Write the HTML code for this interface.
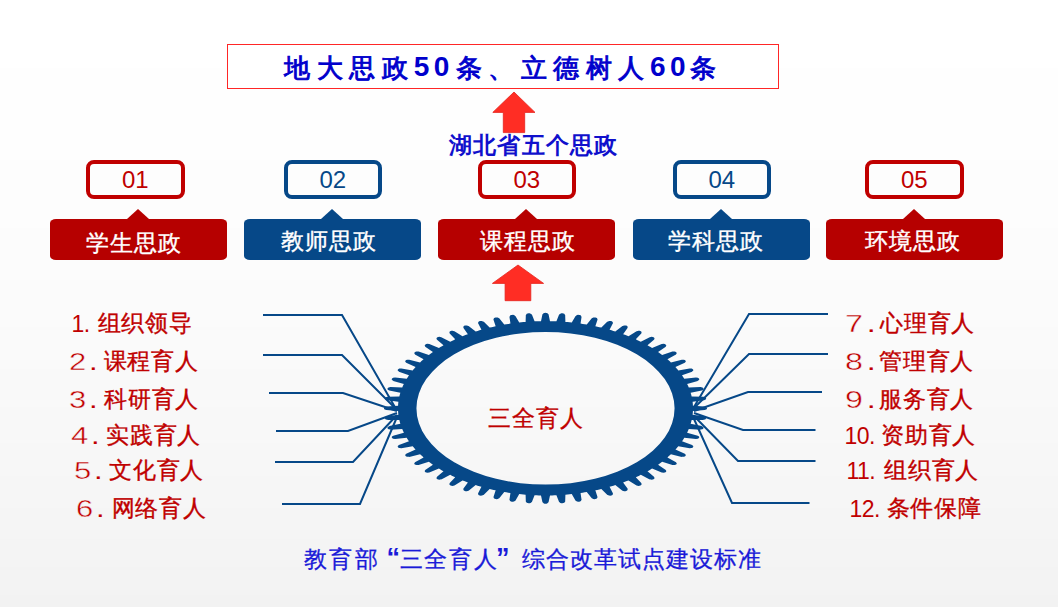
<!DOCTYPE html>
<html><head><meta charset="utf-8"><style>
html,body{margin:0;padding:0}
body{width:1058px;height:607px;overflow:hidden;position:relative;background:linear-gradient(to bottom,#ffffff 0px 68px,#fefefe 68px 160px,#fdfdfd 160px 228px,#fcfcfc 228px 280px,#fbfbfb 280px 327px,#fafafa 327px 369px,#f9f9f9 369px 407px,#f8f8f8 407px 443px,#f7f7f7 443px 476px,#f6f6f6 476px 508px,#f5f5f5 508px 539px,#f4f4f4 539px 567px,#f3f3f3 567px 595px,#f2f2f2 595px 607px);font-family:"Liberation Sans",sans-serif}
.abs{position:absolute}
#title{position:absolute;left:227px;top:44px;width:550px;height:43px;border:1px solid #ff2626;background:#fff;}
#tt span,#tt b{position:absolute;top:54.7px;font-size:26px;line-height:26px;color:#0000cc;letter-spacing:6.5px;white-space:nowrap;-webkit-text-stroke:0.9px #0000cc}
#tt b{font-weight:bold;-webkit-text-stroke:0;font-size:28px;top:54px;letter-spacing:4.5px;transform:scaleX(1.0);transform-origin:0 0}
#hb{position:absolute;left:449px;top:133.5px;font-weight:bold;font-size:23px;line-height:23px;color:#1010cc;white-space:nowrap;letter-spacing:1.2px}
.nb{position:absolute;top:160px;width:90.5px;height:30.5px;border:4px solid;border-radius:8px;font-size:24px;line-height:32px;text-align:center}
.lb{position:absolute;top:219px;width:177px;height:40.5px;border-radius:6px/4px;color:#fff;font-size:23px;line-height:24px;letter-spacing:1px;-webkit-text-stroke:0.35px #fff}
.lb span{position:absolute;white-space:nowrap}
.notch{position:absolute;top:208.7px;width:0;height:0;border-left:11.5px solid transparent;border-right:11.5px solid transparent;border-bottom:10.5px solid}
.n,.c{position:absolute;font-size:23px;line-height:24px;letter-spacing:0.8px;color:#c00000;white-space:nowrap}
.c{-webkit-text-stroke:0.35px #c00000}
.n i{font-style:normal}
.n .e{-webkit-text-stroke:0.4px #f9f9f9}
.n{transform-origin:0 0}
#bt span{position:absolute;font-size:23px;line-height:24px;color:#1a1ad8;white-space:nowrap;-webkit-text-stroke:0.3px #1a1ad8}
#bt .q{font-size:27px;font-weight:bold;-webkit-text-stroke:0}
#center{position:absolute;left:488px;top:406px;font-size:23px;line-height:24px;color:#c00000;-webkit-text-stroke:0.3px #c00000;white-space:nowrap;letter-spacing:0.9px}
</style></head><body>
<div id="title"></div>
<div id="tt"><span style="left:284px">地大思政</span><b style="left:413.8px">50</b><span style="left:455.5px">条、立德树人</span><b style="left:650px">60</b><span style="left:689.5px">条</span></div>
<svg class="abs" style="left:0;top:0" width="1058" height="607" viewBox="0 0 1058 607">
<polygon points="514,92 535,112.4 524.7,112.4 524.7,132.6 503.3,132.6 503.3,112.4 492.8,112.4" fill="#ff2d24" stroke="#e4221c" stroke-width="0.8"/>
<polygon points="518,265 543.6,283.4 530.8,283.4 530.8,300.7 505.1,300.7 505.1,283.4 492.4,283.4" fill="#ff2d24" stroke="#e4221c" stroke-width="0.8"/>
<g fill="none" stroke="#064888" stroke-width="2" stroke-linejoin="miter"><polyline points="263,315 342,315 396,409"/><polyline points="263,355 342,355 397,410"/><polyline points="269,393 343,393 397,411"/><polyline points="276,431 348,431 397,413"/><polyline points="275,462 353,462 397,415"/><polyline points="282,504 360,504 397,417"/><polyline points="828,314 749,314 694,407"/><polyline points="828,354 749,354 694,408"/><polyline points="822,392 748,392 694,411"/><polyline points="815.5,430 743,430 694,413"/><polyline points="815.5,461 738,461 694,416"/><polyline points="809.5,503 732,503 694,419"/></g>
<g transform="translate(545.5 408.3) scale(1.475 0.872)"><path fill="#064888" fill-rule="evenodd" d="M99.73 -7.41 L99.82 -5.96 L99.90 -4.51 L99.95 -3.05 L107.88 -2.07 L107.88 -1.98 L109.02 -1.33 L109.39 -0.67 L109.50 0.00 L109.39 0.67 L109.02 1.33 L107.88 1.98 L107.88 2.07 L99.95 3.05 L99.95 3.05 L99.90 4.51 L99.82 5.96 L99.73 7.41 L107.51 9.22 L107.50 9.31 L108.57 10.07 L108.86 10.77 L108.90 11.45 L108.72 12.10 L108.29 12.72 L107.08 13.24 L107.07 13.34 L99.09 13.49 L99.09 13.49 L98.88 14.92 L98.65 16.36 L98.40 17.79 L105.95 20.40 L105.94 20.50 L106.92 21.36 L107.14 22.09 L107.11 22.77 L106.86 23.40 L106.36 23.97 L105.11 24.36 L105.09 24.46 L97.13 23.77 L97.13 23.77 L96.78 25.18 L96.40 26.58 L96.00 27.98 L103.24 31.37 L103.21 31.46 L104.10 32.42 L104.24 33.17 L104.14 33.84 L103.83 34.44 L103.28 34.96 L101.99 35.22 L101.96 35.31 L94.12 33.79 L94.12 33.79 L93.62 35.16 L93.09 36.51 L92.55 37.86 L99.40 41.99 L99.36 42.07 L100.14 43.13 L100.20 43.88 L100.03 44.54 L99.66 45.10 L99.06 45.56 L97.75 45.69 L97.71 45.77 L90.07 43.44 L90.07 43.44 L89.43 44.75 L88.77 46.05 L88.09 47.33 L94.46 52.15 L94.42 52.23 L95.08 53.36 L95.07 54.11 L94.83 54.75 L94.40 55.27 L93.75 55.67 L92.44 55.65 L92.39 55.73 L85.04 52.62 L85.04 52.62 L84.26 53.85 L83.47 55.07 L82.66 56.28 L88.49 61.73 L88.44 61.81 L88.98 63.00 L88.89 63.76 L88.59 64.36 L88.10 64.84 L87.42 65.16 L86.12 65.01 L86.06 65.09 L79.07 61.22 L79.07 61.22 L78.17 62.37 L77.25 63.50 L76.32 64.61 L81.56 70.65 L81.49 70.72 L81.91 71.96 L81.74 72.70 L81.37 73.27 L80.84 73.69 L80.13 73.94 L78.85 73.66 L78.78 73.73 L72.24 69.15 L72.24 69.15 L71.22 70.19 L70.19 71.22 L69.15 72.24 L73.73 78.78 L73.66 78.85 L73.94 80.13 L73.69 80.84 L73.27 81.37 L72.70 81.74 L71.96 81.91 L70.72 81.49 L70.65 81.56 L64.61 76.32 L64.61 76.32 L63.50 77.25 L62.37 78.17 L61.22 79.07 L65.09 86.06 L65.01 86.12 L65.16 87.42 L64.84 88.10 L64.36 88.59 L63.76 88.89 L63.00 88.98 L61.81 88.44 L61.73 88.49 L56.28 82.66 L56.28 82.66 L55.07 83.47 L53.85 84.26 L52.62 85.04 L55.73 92.39 L55.65 92.44 L55.67 93.75 L55.27 94.40 L54.75 94.83 L54.11 95.07 L53.36 95.08 L52.23 94.42 L52.15 94.46 L47.33 88.09 L47.33 88.09 L46.05 88.77 L44.75 89.43 L43.44 90.07 L45.77 97.71 L45.69 97.75 L45.56 99.06 L45.10 99.66 L44.54 100.03 L43.88 100.20 L43.13 100.14 L42.07 99.36 L41.99 99.40 L37.86 92.55 L37.86 92.55 L36.51 93.09 L35.16 93.62 L33.79 94.12 L35.31 101.96 L35.22 101.99 L34.96 103.28 L34.44 103.83 L33.84 104.14 L33.17 104.24 L32.42 104.10 L31.46 103.21 L31.37 103.24 L27.98 96.00 L27.98 96.00 L26.58 96.40 L25.18 96.78 L23.77 97.13 L24.46 105.09 L24.36 105.11 L23.97 106.36 L23.40 106.86 L22.77 107.11 L22.09 107.14 L21.36 106.92 L20.50 105.94 L20.40 105.95 L17.79 98.40 L17.79 98.40 L16.36 98.65 L14.92 98.88 L13.49 99.09 L13.34 107.07 L13.24 107.08 L12.72 108.29 L12.10 108.72 L11.45 108.90 L10.77 108.86 L10.07 108.57 L9.31 107.50 L9.22 107.51 L7.41 99.73 L7.41 99.73 L5.96 99.82 L4.51 99.90 L3.05 99.95 L2.07 107.88 L1.98 107.88 L1.33 109.02 L0.67 109.39 L0.00 109.50 L-0.67 109.39 L-1.33 109.02 L-1.98 107.88 L-2.07 107.88 L-3.05 99.95 L-3.05 99.95 L-4.51 99.90 L-5.96 99.82 L-7.41 99.73 L-9.22 107.51 L-9.31 107.50 L-10.07 108.57 L-10.77 108.86 L-11.45 108.90 L-12.10 108.72 L-12.72 108.29 L-13.24 107.08 L-13.34 107.07 L-13.49 99.09 L-13.49 99.09 L-14.92 98.88 L-16.36 98.65 L-17.79 98.40 L-20.40 105.95 L-20.50 105.94 L-21.36 106.92 L-22.09 107.14 L-22.77 107.11 L-23.40 106.86 L-23.97 106.36 L-24.36 105.11 L-24.46 105.09 L-23.77 97.13 L-23.77 97.13 L-25.18 96.78 L-26.58 96.40 L-27.98 96.00 L-31.37 103.24 L-31.46 103.21 L-32.42 104.10 L-33.17 104.24 L-33.84 104.14 L-34.44 103.83 L-34.96 103.28 L-35.22 101.99 L-35.31 101.96 L-33.79 94.12 L-33.79 94.12 L-35.16 93.62 L-36.51 93.09 L-37.86 92.55 L-41.99 99.40 L-42.07 99.36 L-43.13 100.14 L-43.88 100.20 L-44.54 100.03 L-45.10 99.66 L-45.56 99.06 L-45.69 97.75 L-45.77 97.71 L-43.44 90.07 L-43.44 90.07 L-44.75 89.43 L-46.05 88.77 L-47.33 88.09 L-52.15 94.46 L-52.23 94.42 L-53.36 95.08 L-54.11 95.07 L-54.75 94.83 L-55.27 94.40 L-55.67 93.75 L-55.65 92.44 L-55.73 92.39 L-52.62 85.04 L-52.62 85.04 L-53.85 84.26 L-55.07 83.47 L-56.28 82.66 L-61.73 88.49 L-61.81 88.44 L-63.00 88.98 L-63.76 88.89 L-64.36 88.59 L-64.84 88.10 L-65.16 87.42 L-65.01 86.12 L-65.09 86.06 L-61.22 79.07 L-61.22 79.07 L-62.37 78.17 L-63.50 77.25 L-64.61 76.32 L-70.65 81.56 L-70.72 81.49 L-71.96 81.91 L-72.70 81.74 L-73.27 81.37 L-73.69 80.84 L-73.94 80.13 L-73.66 78.85 L-73.73 78.78 L-69.15 72.24 L-69.15 72.24 L-70.19 71.22 L-71.22 70.19 L-72.24 69.15 L-78.78 73.73 L-78.85 73.66 L-80.13 73.94 L-80.84 73.69 L-81.37 73.27 L-81.74 72.70 L-81.91 71.96 L-81.49 70.72 L-81.56 70.65 L-76.32 64.61 L-76.32 64.61 L-77.25 63.50 L-78.17 62.37 L-79.07 61.22 L-86.06 65.09 L-86.12 65.01 L-87.42 65.16 L-88.10 64.84 L-88.59 64.36 L-88.89 63.76 L-88.98 63.00 L-88.44 61.81 L-88.49 61.73 L-82.66 56.28 L-82.66 56.28 L-83.47 55.07 L-84.26 53.85 L-85.04 52.62 L-92.39 55.73 L-92.44 55.65 L-93.75 55.67 L-94.40 55.27 L-94.83 54.75 L-95.07 54.11 L-95.08 53.36 L-94.42 52.23 L-94.46 52.15 L-88.09 47.33 L-88.09 47.33 L-88.77 46.05 L-89.43 44.75 L-90.07 43.44 L-97.71 45.77 L-97.75 45.69 L-99.06 45.56 L-99.66 45.10 L-100.03 44.54 L-100.20 43.88 L-100.14 43.13 L-99.36 42.07 L-99.40 41.99 L-92.55 37.86 L-92.55 37.86 L-93.09 36.51 L-93.62 35.16 L-94.12 33.79 L-101.96 35.31 L-101.99 35.22 L-103.28 34.96 L-103.83 34.44 L-104.14 33.84 L-104.24 33.17 L-104.10 32.42 L-103.21 31.46 L-103.24 31.37 L-96.00 27.98 L-96.00 27.98 L-96.40 26.58 L-96.78 25.18 L-97.13 23.77 L-105.09 24.46 L-105.11 24.36 L-106.36 23.97 L-106.86 23.40 L-107.11 22.77 L-107.14 22.09 L-106.92 21.36 L-105.94 20.50 L-105.95 20.40 L-98.40 17.79 L-98.40 17.79 L-98.65 16.36 L-98.88 14.92 L-99.09 13.49 L-107.07 13.34 L-107.08 13.24 L-108.29 12.72 L-108.72 12.10 L-108.90 11.45 L-108.86 10.77 L-108.57 10.07 L-107.50 9.31 L-107.51 9.22 L-99.73 7.41 L-99.73 7.41 L-99.82 5.96 L-99.90 4.51 L-99.95 3.05 L-107.88 2.07 L-107.88 1.98 L-109.02 1.33 L-109.39 0.67 L-109.50 0.00 L-109.39 -0.67 L-109.02 -1.33 L-107.88 -1.98 L-107.88 -2.07 L-99.95 -3.05 L-99.95 -3.05 L-99.90 -4.51 L-99.82 -5.96 L-99.73 -7.41 L-107.51 -9.22 L-107.50 -9.31 L-108.57 -10.07 L-108.86 -10.77 L-108.90 -11.45 L-108.72 -12.10 L-108.29 -12.72 L-107.08 -13.24 L-107.07 -13.34 L-99.09 -13.49 L-99.09 -13.49 L-98.88 -14.92 L-98.65 -16.36 L-98.40 -17.79 L-105.95 -20.40 L-105.94 -20.50 L-106.92 -21.36 L-107.14 -22.09 L-107.11 -22.77 L-106.86 -23.40 L-106.36 -23.97 L-105.11 -24.36 L-105.09 -24.46 L-97.13 -23.77 L-97.13 -23.77 L-96.78 -25.18 L-96.40 -26.58 L-96.00 -27.98 L-103.24 -31.37 L-103.21 -31.46 L-104.10 -32.42 L-104.24 -33.17 L-104.14 -33.84 L-103.83 -34.44 L-103.28 -34.96 L-101.99 -35.22 L-101.96 -35.31 L-94.12 -33.79 L-94.12 -33.79 L-93.62 -35.16 L-93.09 -36.51 L-92.55 -37.86 L-99.40 -41.99 L-99.36 -42.07 L-100.14 -43.13 L-100.20 -43.88 L-100.03 -44.54 L-99.66 -45.10 L-99.06 -45.56 L-97.75 -45.69 L-97.71 -45.77 L-90.07 -43.44 L-90.07 -43.44 L-89.43 -44.75 L-88.77 -46.05 L-88.09 -47.33 L-94.46 -52.15 L-94.42 -52.23 L-95.08 -53.36 L-95.07 -54.11 L-94.83 -54.75 L-94.40 -55.27 L-93.75 -55.67 L-92.44 -55.65 L-92.39 -55.73 L-85.04 -52.62 L-85.04 -52.62 L-84.26 -53.85 L-83.47 -55.07 L-82.66 -56.28 L-88.49 -61.73 L-88.44 -61.81 L-88.98 -63.00 L-88.89 -63.76 L-88.59 -64.36 L-88.10 -64.84 L-87.42 -65.16 L-86.12 -65.01 L-86.06 -65.09 L-79.07 -61.22 L-79.07 -61.22 L-78.17 -62.37 L-77.25 -63.50 L-76.32 -64.61 L-81.56 -70.65 L-81.49 -70.72 L-81.91 -71.96 L-81.74 -72.70 L-81.37 -73.27 L-80.84 -73.69 L-80.13 -73.94 L-78.85 -73.66 L-78.78 -73.73 L-72.24 -69.15 L-72.24 -69.15 L-71.22 -70.19 L-70.19 -71.22 L-69.15 -72.24 L-73.73 -78.78 L-73.66 -78.85 L-73.94 -80.13 L-73.69 -80.84 L-73.27 -81.37 L-72.70 -81.74 L-71.96 -81.91 L-70.72 -81.49 L-70.65 -81.56 L-64.61 -76.32 L-64.61 -76.32 L-63.50 -77.25 L-62.37 -78.17 L-61.22 -79.07 L-65.09 -86.06 L-65.01 -86.12 L-65.16 -87.42 L-64.84 -88.10 L-64.36 -88.59 L-63.76 -88.89 L-63.00 -88.98 L-61.81 -88.44 L-61.73 -88.49 L-56.28 -82.66 L-56.28 -82.66 L-55.07 -83.47 L-53.85 -84.26 L-52.62 -85.04 L-55.73 -92.39 L-55.65 -92.44 L-55.67 -93.75 L-55.27 -94.40 L-54.75 -94.83 L-54.11 -95.07 L-53.36 -95.08 L-52.23 -94.42 L-52.15 -94.46 L-47.33 -88.09 L-47.33 -88.09 L-46.05 -88.77 L-44.75 -89.43 L-43.44 -90.07 L-45.77 -97.71 L-45.69 -97.75 L-45.56 -99.06 L-45.10 -99.66 L-44.54 -100.03 L-43.88 -100.20 L-43.13 -100.14 L-42.07 -99.36 L-41.99 -99.40 L-37.86 -92.55 L-37.86 -92.55 L-36.51 -93.09 L-35.16 -93.62 L-33.79 -94.12 L-35.31 -101.96 L-35.22 -101.99 L-34.96 -103.28 L-34.44 -103.83 L-33.84 -104.14 L-33.17 -104.24 L-32.42 -104.10 L-31.46 -103.21 L-31.37 -103.24 L-27.98 -96.00 L-27.98 -96.00 L-26.58 -96.40 L-25.18 -96.78 L-23.77 -97.13 L-24.46 -105.09 L-24.36 -105.11 L-23.97 -106.36 L-23.40 -106.86 L-22.77 -107.11 L-22.09 -107.14 L-21.36 -106.92 L-20.50 -105.94 L-20.40 -105.95 L-17.79 -98.40 L-17.79 -98.40 L-16.36 -98.65 L-14.92 -98.88 L-13.49 -99.09 L-13.34 -107.07 L-13.24 -107.08 L-12.72 -108.29 L-12.10 -108.72 L-11.45 -108.90 L-10.77 -108.86 L-10.07 -108.57 L-9.31 -107.50 L-9.22 -107.51 L-7.41 -99.73 L-7.41 -99.73 L-5.96 -99.82 L-4.51 -99.90 L-3.05 -99.95 L-2.07 -107.88 L-1.98 -107.88 L-1.33 -109.02 L-0.67 -109.39 L-0.00 -109.50 L0.67 -109.39 L1.33 -109.02 L1.98 -107.88 L2.07 -107.88 L3.05 -99.95 L3.05 -99.95 L4.51 -99.90 L5.96 -99.82 L7.41 -99.73 L9.22 -107.51 L9.31 -107.50 L10.07 -108.57 L10.77 -108.86 L11.45 -108.90 L12.10 -108.72 L12.72 -108.29 L13.24 -107.08 L13.34 -107.07 L13.49 -99.09 L13.49 -99.09 L14.92 -98.88 L16.36 -98.65 L17.79 -98.40 L20.40 -105.95 L20.50 -105.94 L21.36 -106.92 L22.09 -107.14 L22.77 -107.11 L23.40 -106.86 L23.97 -106.36 L24.36 -105.11 L24.46 -105.09 L23.77 -97.13 L23.77 -97.13 L25.18 -96.78 L26.58 -96.40 L27.98 -96.00 L31.37 -103.24 L31.46 -103.21 L32.42 -104.10 L33.17 -104.24 L33.84 -104.14 L34.44 -103.83 L34.96 -103.28 L35.22 -101.99 L35.31 -101.96 L33.79 -94.12 L33.79 -94.12 L35.16 -93.62 L36.51 -93.09 L37.86 -92.55 L41.99 -99.40 L42.07 -99.36 L43.13 -100.14 L43.88 -100.20 L44.54 -100.03 L45.10 -99.66 L45.56 -99.06 L45.69 -97.75 L45.77 -97.71 L43.44 -90.07 L43.44 -90.07 L44.75 -89.43 L46.05 -88.77 L47.33 -88.09 L52.15 -94.46 L52.23 -94.42 L53.36 -95.08 L54.11 -95.07 L54.75 -94.83 L55.27 -94.40 L55.67 -93.75 L55.65 -92.44 L55.73 -92.39 L52.62 -85.04 L52.62 -85.04 L53.85 -84.26 L55.07 -83.47 L56.28 -82.66 L61.73 -88.49 L61.81 -88.44 L63.00 -88.98 L63.76 -88.89 L64.36 -88.59 L64.84 -88.10 L65.16 -87.42 L65.01 -86.12 L65.09 -86.06 L61.22 -79.07 L61.22 -79.07 L62.37 -78.17 L63.50 -77.25 L64.61 -76.32 L70.65 -81.56 L70.72 -81.49 L71.96 -81.91 L72.70 -81.74 L73.27 -81.37 L73.69 -80.84 L73.94 -80.13 L73.66 -78.85 L73.73 -78.78 L69.15 -72.24 L69.15 -72.24 L70.19 -71.22 L71.22 -70.19 L72.24 -69.15 L78.78 -73.73 L78.85 -73.66 L80.13 -73.94 L80.84 -73.69 L81.37 -73.27 L81.74 -72.70 L81.91 -71.96 L81.49 -70.72 L81.56 -70.65 L76.32 -64.61 L76.32 -64.61 L77.25 -63.50 L78.17 -62.37 L79.07 -61.22 L86.06 -65.09 L86.12 -65.01 L87.42 -65.16 L88.10 -64.84 L88.59 -64.36 L88.89 -63.76 L88.98 -63.00 L88.44 -61.81 L88.49 -61.73 L82.66 -56.28 L82.66 -56.28 L83.47 -55.07 L84.26 -53.85 L85.04 -52.62 L92.39 -55.73 L92.44 -55.65 L93.75 -55.67 L94.40 -55.27 L94.83 -54.75 L95.07 -54.11 L95.08 -53.36 L94.42 -52.23 L94.46 -52.15 L88.09 -47.33 L88.09 -47.33 L88.77 -46.05 L89.43 -44.75 L90.07 -43.44 L97.71 -45.77 L97.75 -45.69 L99.06 -45.56 L99.66 -45.10 L100.03 -44.54 L100.20 -43.88 L100.14 -43.13 L99.36 -42.07 L99.40 -41.99 L92.55 -37.86 L92.55 -37.86 L93.09 -36.51 L93.62 -35.16 L94.12 -33.79 L101.96 -35.31 L101.99 -35.22 L103.28 -34.96 L103.83 -34.44 L104.14 -33.84 L104.24 -33.17 L104.10 -32.42 L103.21 -31.46 L103.24 -31.37 L96.00 -27.98 L96.00 -27.98 L96.40 -26.58 L96.78 -25.18 L97.13 -23.77 L105.09 -24.46 L105.11 -24.36 L106.36 -23.97 L106.86 -23.40 L107.11 -22.77 L107.14 -22.09 L106.92 -21.36 L105.94 -20.50 L105.95 -20.40 L98.40 -17.79 L98.40 -17.79 L98.65 -16.36 L98.88 -14.92 L99.09 -13.49 L107.07 -13.34 L107.08 -13.24 L108.29 -12.72 L108.72 -12.10 L108.90 -11.45 L108.86 -10.77 L108.57 -10.07 L107.50 -9.31 L107.51 -9.22 L99.73 -7.41 Z M87.5 0 A87.5 87.5 0 1 0 -87.5 0 A87.5 87.5 0 1 0 87.5 0 Z"/></g>
</svg>
<div id="hb">湖北省五个思政</div>
<div class="nb" style="left:86px;border-color:#c00000;color:#c00000">01</div><div class="lb" style="left:50px;background:#b60000"><span style="left:36px;top:11.5px">学生思政</span></div><div class="notch" style="left:126.5px;border-bottom-color:#b60000"></div><div class="nb" style="left:283.5px;border-color:#064888;color:#064888">02</div><div class="lb" style="left:244px;background:#064888"><span style="left:36.5px;top:10px">教师思政</span></div><div class="notch" style="left:320.5px;border-bottom-color:#064888"></div><div class="nb" style="left:477.5px;border-color:#c00000;color:#c00000">03</div><div class="lb" style="left:438px;background:#b60000"><span style="left:42px;top:10px">课程思政</span></div><div class="notch" style="left:514.5px;border-bottom-color:#b60000"></div><div class="nb" style="left:672.5px;border-color:#064888;color:#064888">04</div><div class="lb" style="left:633px;background:#064888"><span style="left:35px;top:9.5px">学科思政</span></div><div class="notch" style="left:709.5px;border-bottom-color:#064888"></div><div class="nb" style="left:865px;border-color:#c00000;color:#c00000">05</div><div class="lb" style="left:826px;background:#b60000"><span style="left:39px;top:10px">环境思政</span></div><div class="notch" style="left:902.5px;border-bottom-color:#b60000"></div>
<div class="n" style="left:71.5px;top:312px;transform:scaleX(1.0);letter-spacing:-0.6px"><i>1</i>.</div><div class="c" style="left:97.5px;top:310.5px">组织领导</div><div class="n" style="left:68.5px;top:350px;transform:scaleX(1.35);letter-spacing:2.1px"><i class="e">2</i>.</div><div class="c" style="left:103.5px;top:348.5px">课程育人</div><div class="n" style="left:69px;top:388px;transform:scaleX(1.35);letter-spacing:2.1px"><i class="e">3</i>.</div><div class="c" style="left:104.0px;top:386.5px">科研育人</div><div class="n" style="left:71px;top:424px;transform:scaleX(1.35);letter-spacing:2.1px"><i class="e">4</i>.</div><div class="c" style="left:106.0px;top:422.5px">实践育人</div><div class="n" style="left:73.5px;top:459px;transform:scaleX(1.35);letter-spacing:2.1px"><i class="e">5</i>.</div><div class="c" style="left:109.0px;top:457.5px">文化育人</div><div class="n" style="left:75.5px;top:497px;transform:scaleX(1.35);letter-spacing:2.1px"><i class="e">6</i>.</div><div class="c" style="left:111.5px;top:495.5px">网络育人</div><div class="n" style="left:845px;top:312px;transform:scaleX(1.4);letter-spacing:2.8px"><i class="e">7</i>.</div><div class="c" style="left:880.0px;top:310.5px">心理育人</div><div class="n" style="left:844.5px;top:350px;transform:scaleX(1.4);letter-spacing:2.8px"><i class="e">8</i>.</div><div class="c" style="left:879.0px;top:348.5px">管理育人</div><div class="n" style="left:844.5px;top:388px;transform:scaleX(1.4);letter-spacing:2.8px"><i class="e">9</i>.</div><div class="c" style="left:879.0px;top:386.5px">服务育人</div><div class="n" style="left:844.5px;top:424px;transform:scaleX(1.0);letter-spacing:-0.6px"><i>10</i>.</div><div class="c" style="left:881.0px;top:422.5px">资助育人</div><div class="n" style="left:846.5px;top:459px;transform:scaleX(1.0);letter-spacing:-0.6px"><i>11</i>.</div><div class="c" style="left:884.0px;top:457.5px">组织育人</div><div class="n" style="left:849.5px;top:497px;transform:scaleX(1.0);letter-spacing:-0.6px"><i>12</i>.</div><div class="c" style="left:886.5px;top:495.5px">条件保障</div>
<div id="center">三全育人</div>
<div id="bt"><span style="left:303.5px;top:547px;letter-spacing:2.8px">教育部</span><span class="q" style="left:386.5px;top:546px">“</span><span style="left:399.5px;top:547px;letter-spacing:1.8px">三全育人</span><span class="q" style="left:496px;top:546px">”</span><span style="left:521.5px;top:547px;letter-spacing:1.0px">综合改革试点建设标准</span></div>
</body></html>
